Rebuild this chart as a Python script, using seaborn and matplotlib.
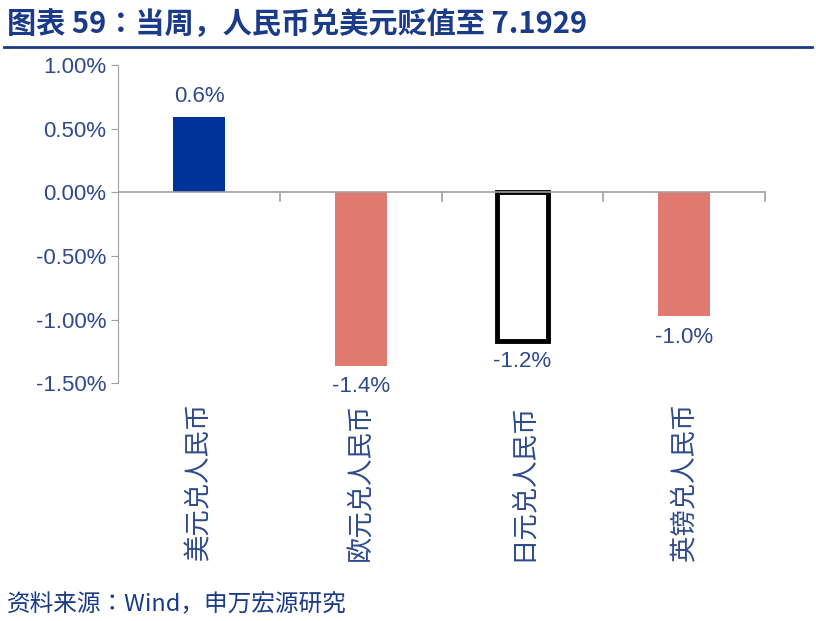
import matplotlib.pyplot as plt
from matplotlib import font_manager
import seaborn as sns
import pandas as pd

cjk = [f.name for f in font_manager.fontManager.ttflist if 'CJK' in f.name]
cjk_name = 'Noto Sans CJK SC' if 'Noto Sans CJK SC' in cjk else (cjk[0] if cjk else 'DejaVu Sans')
plt.rcParams['font.family'] = ['Liberation Sans', cjk_name, 'DejaVu Sans']

categories = ['美元兑人民币', '欧元兑人民币', '日元兑人民币', '英镑兑人民币']
changes = [0.595, -1.365, -1.165, -0.975]
labels = ['0.6%', '-1.4%', '-1.2%', '-1.0%']
colors = ['#003399', '#E07A70', '#FFFFFF', '#E07A70']

df = pd.DataFrame({'cat': categories, 'val': changes})
blue = '#2E4A8C'

fig = plt.figure(figsize=(8.16, 6.21), dpi=100)
ax = fig.add_axes([0.145, 0.383, 0.7925, 0.512])
sns.barplot(data=df, x='cat', y='val', hue='cat', palette=colors, width=0.32,
            saturation=1, legend=False, ax=ax)
for i, p in enumerate(ax.patches):
    if colors[i] == '#FFFFFF':
        p.set_edgecolor('black')
        p.set_linewidth(3.5)
ax.set_ylim(-1.5, 1.0)
ax.set_xlim(-0.5, 3.5)
ticks = [1.0, 0.5, 0.0, -0.5, -1.0, -1.5]
ax.set_yticks(ticks)
ax.set_yticklabels([f'{v:.2f}%' for v in ticks], color=blue, fontsize=16)
ax.axhline(0, color='#A0A0A0', lw=1.2)
for x in [0.5, 1.5, 2.5, 3.5]:
    ax.plot([x, x], [0, -0.07], color='#A0A0A0', lw=1.2, clip_on=False)
for i, (v, t) in enumerate(zip(changes, labels)):
    y = v + 0.08 if v > 0 else v - 0.08
    ax.text(i, y, t, ha='center', va='bottom' if v > 0 else 'top',
            color=blue, fontsize=16)
ax.set_xticks(range(4))
ax.set_xticklabels(categories, rotation=90, fontsize=19, color=blue,
                   fontfamily=cjk_name)
ax.tick_params(axis='x', length=0, pad=14)
ax.tick_params(axis='y', direction='out', color='#A0A0A0', length=5)
for s in ['top', 'right', 'bottom']:
    ax.spines[s].set_visible(False)
ax.spines['left'].set_color('#A0A0A0')
ax.set_xlabel('')
ax.set_ylabel('')

fig.text(0.008, 0.962, '图表 59：当周，人民币兑美元贬值至 7.1929', fontsize=21,
         fontweight='bold', color='#1A3A8A', va='center', fontfamily=cjk_name)
fig.add_artist(plt.Line2D([0.005, 0.995], [0.925, 0.925], color='#1A3A8A', lw=2))
fig.text(0.008, 0.027, '资料来源：Wind，申万宏源研究', fontsize=17, color='#1A3A8A',
         va='center', fontfamily=cjk_name)
fig.savefig('out.png', dpi=100)
